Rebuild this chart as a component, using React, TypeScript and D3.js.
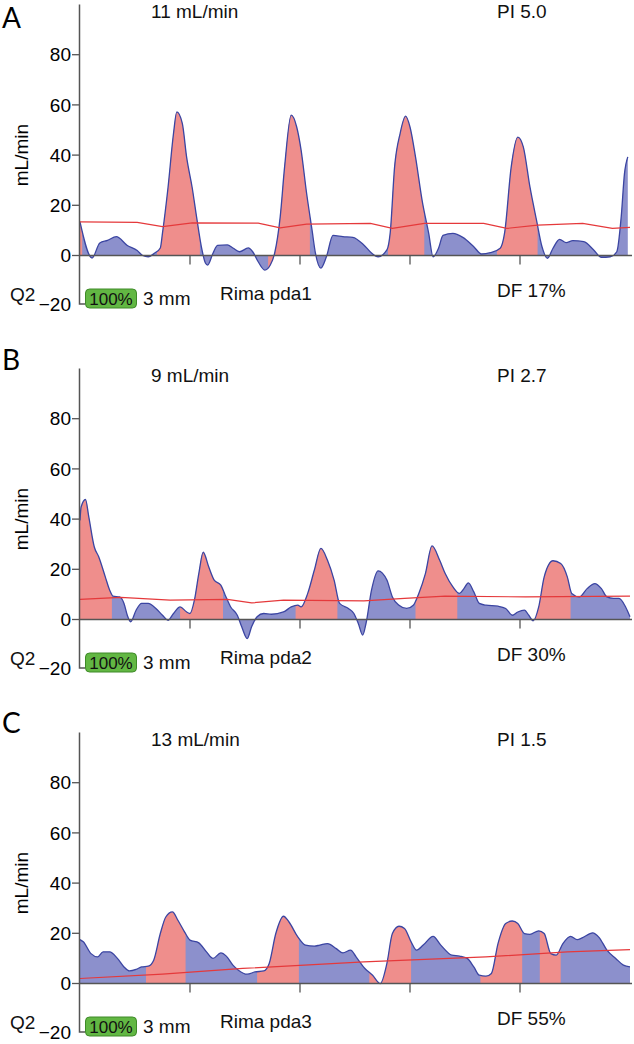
import React, { useRef, useEffect } from 'react';
import * as d3 from 'd3';

type Pt = [number, number];

const panelLetters = ['A', 'B', 'C'];
const flowLabels = ['11 mL/min', '9 mL/min', '13 mL/min'];
const piLabels = ['PI 5.0', 'PI 2.7', 'PI 1.5'];
const dfLabels = ['DF 17%', 'DF 30%', 'DF 55%'];
const vesselLabels = ['Rima pda1', 'Rima pda2', 'Rima pda3'];
const yTicks = [80, 60, 40, 20, 0, -20];
const xTicks = [1, 2, 3, 4];

// flow waveforms, [time (s), flow (mL/min)]
const flowA: Pt[] = [
  [0, 13.4], [0.11, -1], [0.18, 5], [0.25, 6], [0.33, 7.5], [0.43, 4], [0.52, 2], [0.57, 0],
  [0.62, -0.5], [0.68, 1], [0.73, 3], [0.75, 9], [0.8, 27], [0.85, 48.6], [0.88, 57.2],
  [0.93, 52.6], [0.97, 39], [1.02, 27], [1.06, 15.3], [1.11, 2], [1.14, -3], [1.16, -3.8],
  [1.21, 1], [1.25, 4], [1.34, 4.2], [1.39, 3], [1.45, 1.5], [1.53, 3], [1.57, 1.5],
  [1.62, -2.5], [1.68, -5.8], [1.73, -3.8], [1.77, 1], [1.82, 15.4], [1.86, 35.3],
  [1.92, 55.9], [1.97, 51.2], [2.01, 42], [2.06, 24.8], [2.11, 10], [2.14, 1], [2.19, -5],
  [2.24, -0.5], [2.3, 8], [2.39, 7.5], [2.48, 7.2], [2.58, 4.2], [2.65, 1], [2.71, -0.5],
  [2.79, 2.2], [2.82, 9], [2.86, 35.3], [2.91, 48.6], [2.96, 55.5], [3.0, 51.2], [3.05, 39.3],
  [3.11, 22], [3.17, 8.8], [3.21, -0.5], [3.26, 3], [3.3, 8], [3.39, 8.8], [3.48, 7.2],
  [3.58, 3.5], [3.65, 0.6], [3.73, 1.1], [3.82, 2.9], [3.86, 9], [3.92, 35.3], [3.98, 47.2],
  [4.03, 43.3], [4.09, 27.4], [4.15, 14.1], [4.2, 3.5], [4.25, -1.1], [4.3, 2.9], [4.36, 6.4],
  [4.42, 5.1], [4.48, 5.9], [4.58, 5.5], [4.67, 2.2], [4.74, -0.7], [4.82, -0.5], [4.88, 1.5],
  [4.92, 15.4], [4.95, 32.7], [4.98, 39.3],
];
const flowB: Pt[] = [
  [0, 39.5], [0.01, 44.8], [0.05, 47.8], [0.08, 40.9], [0.13, 28.9], [0.17, 25], [0.23, 17],
  [0.27, 11.7], [0.3, 9.3], [0.36, 9], [0.4, 6.4], [0.43, 1.7], [0.46, -0.9], [0.51, 3.7],
  [0.56, 6.4], [0.62, 6.4], [0.69, 4.4], [0.75, 1.7], [0.8, -0.3], [0.85, 2.4], [0.91, 5],
  [0.97, 3], [1.0, 2.4], [1.04, 7.7], [1.08, 18.3], [1.12, 26.8], [1.17, 21], [1.22, 15.7],
  [1.28, 13.7], [1.32, 9.7], [1.37, 5], [1.43, 1.7], [1.47, -2.9], [1.52, -7.6], [1.56, -2.9],
  [1.61, 1.1], [1.67, 2.4], [1.74, 2.1], [1.85, 3], [1.92, 5], [1.98, 5.7], [2.01, 5],
  [2.07, 10.4], [2.13, 19.6], [2.19, 28.3], [2.25, 23.6], [2.31, 15.7], [2.36, 6.4],
  [2.44, 4.4], [2.49, 2.4], [2.53, -1.6], [2.57, -6.2], [2.6, -1.6], [2.65, 11.7], [2.71, 19.4],
  [2.79, 15.7], [2.84, 9], [2.9, 5.7], [2.97, 4.4], [3.03, 5.7], [3.08, 10.4], [3.14, 18.3],
  [3.2, 29.3], [3.27, 23.6], [3.32, 18.3], [3.39, 13], [3.45, 10.4], [3.49, 12.3], [3.53, 14.6],
  [3.58, 11], [3.63, 6.4], [3.69, 5.7], [3.8, 5.3], [3.87, 4.4], [3.93, 1.7], [3.98, 3],
  [4.04, 3.7], [4.08, 1.7], [4.12, -0.5], [4.17, 5], [4.22, 17], [4.3, 23.4], [4.37, 22.3],
  [4.43, 17], [4.47, 10.4], [4.54, 9], [4.61, 12.3], [4.68, 14.3], [4.74, 12.3], [4.79, 9],
  [4.85, 8.4], [4.9, 8.4], [4.96, 5], [5.0, 1.1],
];
const flowC: Pt[] = [
  [0, 17.5], [0.03, 16.6], [0.1, 11.9], [0.16, 10.6], [0.21, 12.6], [0.27, 12.6], [0.34, 10],
  [0.4, 6.6], [0.45, 5], [0.51, 5.6], [0.56, 6.6], [0.62, 6.9], [0.67, 9.3], [0.73, 19.9],
  [0.78, 26.5], [0.84, 28.5], [0.89, 25.2], [0.95, 20.6], [1.0, 17.3], [1.08, 16.2],
  [1.15, 12.6], [1.21, 10], [1.28, 12.2], [1.33, 10.9], [1.39, 7.3], [1.44, 5.3], [1.52, 3.7],
  [1.59, 4.6], [1.67, 5], [1.72, 8], [1.78, 19.9], [1.85, 26.8], [1.9, 24.5], [1.98, 18.6],
  [2.05, 15.3], [2.13, 14.9], [2.18, 15.3], [2.25, 15.9], [2.33, 13.9], [2.39, 12.2],
  [2.46, 13.3], [2.51, 10.6], [2.59, 6], [2.66, 3.3], [2.73, 0], [2.79, 8], [2.84, 19.9],
  [2.9, 22.8], [2.95, 21.9], [3.01, 16.6], [3.06, 13.3], [3.12, 15.3], [3.21, 18.8],
  [3.28, 15.3], [3.38, 11.3], [3.45, 10.9], [3.52, 10], [3.58, 6.6], [3.63, 3.3], [3.69, 2.9],
  [3.74, 4], [3.8, 15.9], [3.87, 23.9], [3.93, 24.9], [3.98, 23.9], [4.04, 19.9], [4.09, 19.6],
  [4.17, 21], [4.22, 19.9], [4.28, 11.9], [4.33, 11.3], [4.39, 15.9], [4.46, 18.8],
  [4.52, 17.5], [4.57, 18.3], [4.66, 20.2], [4.72, 18.3], [4.79, 13.3], [4.87, 10],
  [4.94, 7.3], [5.0, 6.6],
];

// running mean flow (red line)
const meanA: Pt[] = [
  [0, 13.4], [0.52, 13.2], [0.75, 11.5], [1.02, 13], [1.62, 12.9], [1.82, 11], [2.06, 12.5],
  [2.64, 12.8], [2.84, 10.8], [3.13, 12.8], [3.67, 12.8], [3.88, 10.8], [4.16, 12.1],
  [4.57, 12.8], [4.84, 10.8], [5.0, 11.2],
];
const meanB: Pt[] = [
  [0, 8], [0.37, 8.8], [0.82, 7.7], [1.34, 8], [1.56, 6.6], [1.85, 7.7], [2.58, 7.4],
  [2.95, 8.4], [3.32, 9.3], [4.05, 9], [5.0, 9.3],
];
const meanC: Pt[] = [
  [0, 2], [0.75, 3.7], [1.48, 6], [2.58, 8.6], [3.69, 10.6], [4.43, 12.6], [5.0, 13.5],
];

// systolic intervals (red fill), [start s, end s]
const systoleA: Pt[] = [[0, 0.02], [0.7, 1.09], [1.71, 2.09], [2.8, 3.13], [3.79, 4.16]];
const systoleB: Pt[] = [[0, 0.29], [0.91, 1.3], [1.96, 2.34], [3.05, 3.43], [4.12, 4.46]];
const systoleC: Pt[] = [[0.6, 0.96], [1.61, 1.99], [2.63, 3.01], [3.64, 4.02], [4.18, 4.37]];

const flows = [flowA, flowB, flowC];
const means = [meanA, meanB, meanC];
const systoles = [systoleA, systoleB, systoleC];

const zeroY = [255.5, 619.5, 983.5];
const letterY = [28, 370, 733];

const FONT = '"Liberation Sans", Arial, sans-serif';

const App = () => {
  const ref = useRef<SVGSVGElement>(null);

  useEffect(() => {
    if (!ref.current) return;
    const svg = d3.select(ref.current);
    svg.selectAll('*').remove();

    const x = d3.scaleLinear().domain([0, 5]).range([80, 630]);

    zeroY.forEach((z, i) => {
      const y = d3.scaleLinear().domain([-20, 100]).range([z + 50.2, z - 251]);
      const g = svg.append('g');
      const axisX = 79.5;
      const bottom = z + 48.5;

      const area = d3.area<Pt>()
        .x(d => x(d[0]))
        .y0(y(0))
        .y1(d => y(d[1]))
        .curve(d3.curveMonotoneX);
      const line = d3.line<Pt>()
        .x(d => x(d[0]))
        .y(d => y(d[1]))
        .curve(d3.curveMonotoneX);

      const clipId = `sys-${i}`;
      const clip = g.append('clipPath').attr('id', clipId);
      clip.selectAll('rect')
        .data(systoles[i])
        .join('rect')
        .attr('x', d => x(d[0]))
        .attr('width', d => x(d[1]) - x(d[0]))
        .attr('y', y(100))
        .attr('height', y(-20) - y(100));

      g.append('path').attr('d', area(flows[i])).attr('fill', '#8c90cc');
      g.append('path').attr('d', area(flows[i])).attr('fill', '#ef8e8c')
        .attr('clip-path', `url(#${clipId})`);
      g.append('path').attr('d', line(flows[i])).attr('fill', 'none')
        .attr('stroke', '#3b45a2').attr('stroke-width', 1.3);
      g.append('path').attr('d', d3.line<Pt>().x(d => x(d[0])).y(d => y(d[1]))(means[i]))
        .attr('fill', 'none').attr('stroke', '#e5393b').attr('stroke-width', 1.2);

      // axes
      const axisColor = '#555';
      g.append('path')
        .attr('d', `M${axisX},${y(100)}V${bottom}H85`)
        .attr('fill', 'none').attr('stroke', axisColor).attr('stroke-width', 1.5);
      g.append('line')
        .attr('x1', axisX).attr('x2', 632).attr('y1', y(0)).attr('y2', y(0))
        .attr('stroke', axisColor).attr('stroke-width', 1.3);
      g.selectAll('.xt')
        .data(xTicks)
        .join('line')
        .attr('x1', d => x(d)).attr('x2', d => x(d))
        .attr('y1', y(0)).attr('y2', y(0) + 9)
        .attr('stroke', axisColor).attr('stroke-width', 1.3);
      g.selectAll('.yt')
        .data(yTicks.filter(d => d >= 0))
        .join('line')
        .attr('x1', 72).attr('x2', axisX)
        .attr('y1', d => y(d)).attr('y2', d => y(d))
        .attr('stroke', axisColor).attr('stroke-width', 1.3);
      g.selectAll('.yl')
        .data(yTicks)
        .join('text')
        .attr('x', 71)
        .attr('y', d => (d === -20 ? bottom : y(d)))
        .attr('dy', '0.35em')
        .attr('text-anchor', 'end')
        .attr('font-family', FONT).attr('font-size', 19)
        .text(d => (d < 0 ? `\u2212${-d}` : `${d}`));

      const txt = (s: string, tx: number, ty: number, size = 19, anchor = 'start') =>
        g.append('text').attr('x', tx).attr('y', ty)
          .attr('font-family', FONT).attr('font-size', size)
          .attr('text-anchor', anchor).attr('fill', '#111').text(s);

      g.append('text')
        .attr('x', 2).attr('y', letterY[i])
        .attr('font-family', 'Lato, "Open Sans", sans-serif').attr('font-size', 28)
        .text(panelLetters[i]);

      txt(flowLabels[i], 151, z - 238);
      txt(piLabels[i], 497, z - 238);
      g.append('text')
        .attr('transform', `translate(28,${y(40)}) rotate(-90)`)
        .attr('text-anchor', 'middle')
        .attr('font-family', FONT).attr('font-size', 19)
        .text('mL/min');

      txt('Q2', 10, bottom - 3.5);
      g.append('rect')
        .attr('x', 85.5).attr('y', bottom - 15).attr('width', 51).attr('height', 19)
        .attr('rx', 4).attr('fill', '#62b743').attr('stroke', '#3e8a28').attr('stroke-width', 1);
      txt('100%', 111, bottom + 1, 17, 'middle');
      txt('3 mm', 143, bottom + 1);
      txt(vesselLabels[i], 220, bottom - 4);
      txt(dfLabels[i], 497, z + 41);
    });
  }, []);

  return (
    <svg ref={ref} width={634} height={1044}
      style={{ position: 'absolute', left: 0, top: 0, background: '#fff' }} />
  );
};

export default App;
